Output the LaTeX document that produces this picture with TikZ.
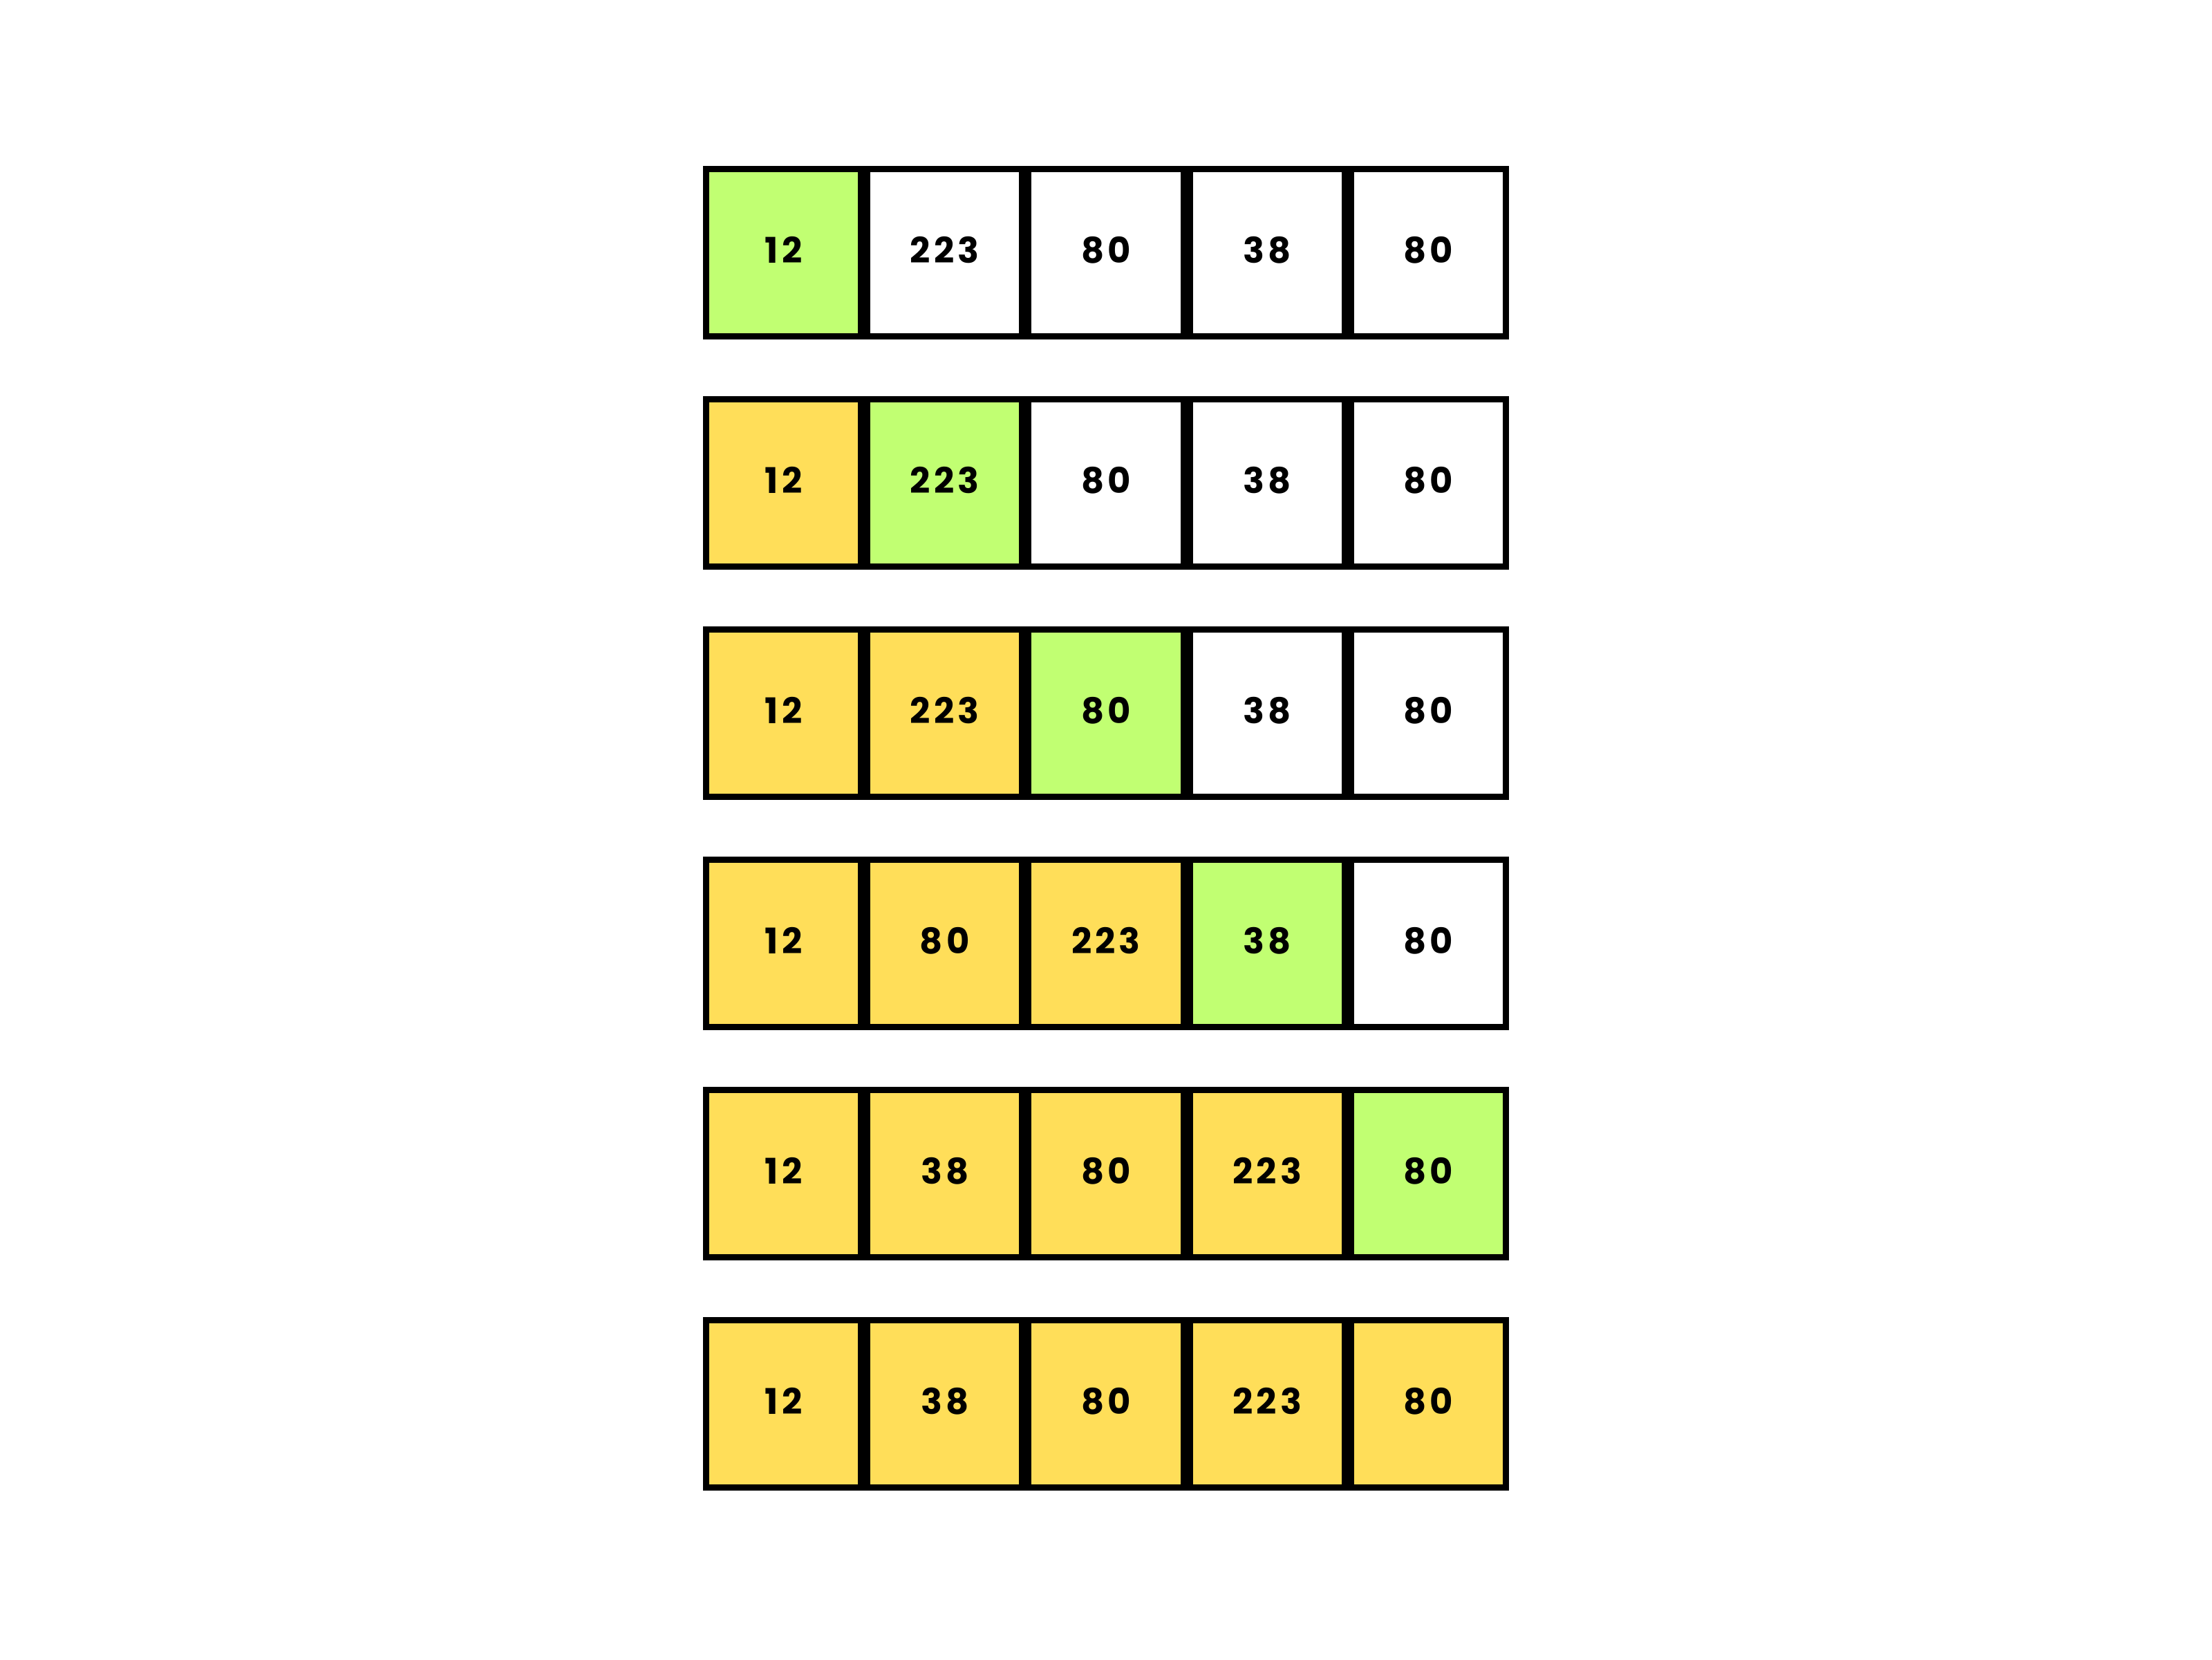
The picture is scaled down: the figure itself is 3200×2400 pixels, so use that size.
\documentclass[tikz,border=0pt]{standalone}
\usepackage{fontspec}
\setmainfont{Poppins}
\newfontfamily\cellfont[LetterSpace=10]{Poppins}
\definecolor{cgreen}{HTML}{C1FF72}
\definecolor{cyellow}{HTML}{FFDE59}
\tikzset{
  cell/.style={draw=black, line width=2.25pt, rectangle, inner sep=0pt,
    minimum width=56.05pt, minimum height=60.5pt, text depth=2.25pt,
    font=\cellfont\fontsize{12.8pt}{14pt}\selectfont\bfseries},
  G/.style={cell, fill=cgreen},
  Y/.style={cell, fill=cyellow},
  W/.style={cell, fill=white}
}
\begin{document}
\begin{tikzpicture}[x=0.25pt, y=-0.25pt]
\useasboundingbox[fill=white] (0,0) rectangle (3200,2400);
\foreach \row [count=\i from 0] in {
  {G/12,W/223,W/80,W/38,W/80},
  {Y/12,G/223,W/80,W/38,W/80},
  {Y/12,Y/223,G/80,W/38,W/80},
  {Y/12,Y/80,Y/223,G/38,W/80},
  {Y/12,Y/38,Y/80,Y/223,G/80},
  {Y/12,Y/38,Y/80,Y/223,Y/80}}{
  \foreach \st/\val [count=\j from 0] in \row {
    \node[\st] (c\i\j) at ({1133.6+233.2*\j},{365.5+333*\i}) {\val};
  }
}
\end{tikzpicture}
\end{document}
